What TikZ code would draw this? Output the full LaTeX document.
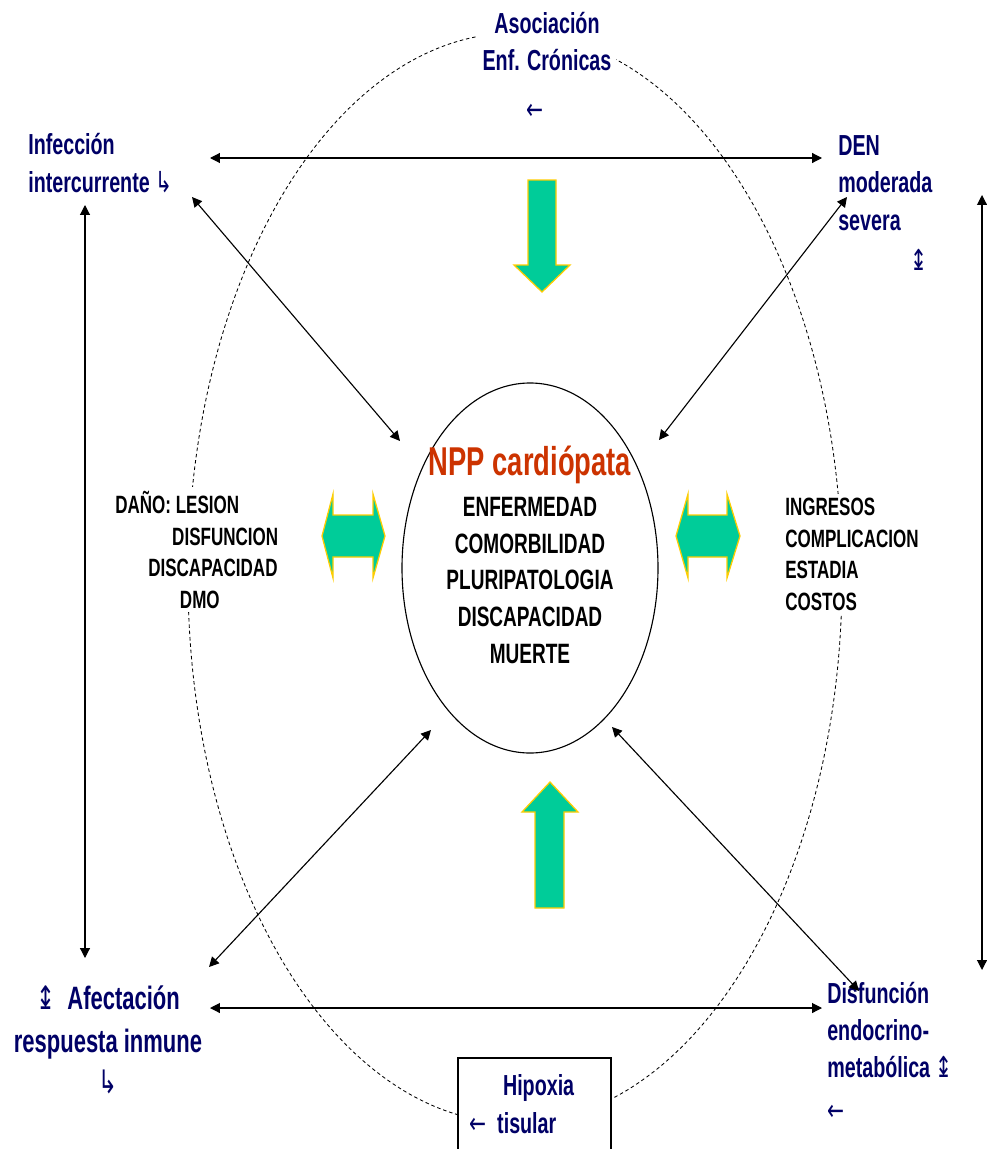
\documentclass[tikz,border=0pt]{standalone}
\usepackage{fontspec}
\setmainfont{Liberation Sans}[FakeStretch=0.68]
\newfontfamily\symfont{DejaVu Sans}[FakeStretch=0.7]
\usetikzlibrary{arrows.meta}

\definecolor{navy}{RGB}{0,0,102}
\definecolor{titlered}{RGB}{204,51,0}
\definecolor{arrowgreen}{RGB}{0,204,153}
\definecolor{arrowgold}{RGB}{255,204,0}
\newcommand{\arr}[1]{{\symfont\mdseries #1}}

\tikzset{
  navylbl/.style={text=navy, font=\bfseries\fontsize{20.6}{26.5}\selectfont, inner sep=0pt},
  listlbl/.style={font=\bfseries\fontsize{17.8}{22.3}\selectfont, fill=white, inner xsep=0pt, inner ysep=3pt, align=left},
  corelbl/.style={font=\bfseries\fontsize{19.9}{26}\selectfont, inner sep=0pt, align=center},
  link/.style={>={Triangle[length=7pt,width=7pt]}, <->, line width=0.8pt},
  bigarrow/.style={fill=arrowgreen, draw=arrowgold, line width=0.9pt},
}

\begin{document}
\begin{tikzpicture}[x=0.025cm, y=-0.025cm]
 \useasboundingbox (0,0) rectangle (986,1149);

 % Outer dashed oval and inner core
 \draw [dash pattern=on 2.5pt off 2pt, line width=0.6pt] (515,578) ellipse (327 and 545);
 \draw [line width=0.8pt] (530,568) ellipse (128 and 185);

 % Box at the bottom
 \draw [fill=white, line width=0.8pt] (458,1058) rectangle (611,1170);

 % Corner labels (anchored on their last line)
 \node [navylbl, fill=white, inner sep=3pt, align=center, anchor=base] (asoc) at (547,120) {Asociación\\Enf. Crónicas\\[8.5pt]\arr{←}\hspace*{17pt}};
 \node [navylbl, align=left, anchor=base west] (infec) at (28,192) {Infección\\intercurrente \arr{↳}};
 \node [navylbl, align=left, anchor=base west] (den) at (838,230) {DEN\\moderada\\severa};
 \node [navylbl] (denarr) at (919,260) {\arr{↨}};
 \node [navylbl, font=\bfseries\fontsize{23}{30.6}\selectfont, align=center, anchor=base] (afec) at (108,1093) {\arr{↨}\ \ Afectación\\respuesta inmune\\[-2pt]\arr{↳}};
 \node [navylbl, align=left, anchor=base west] (disf) at (827,1120) {Disfunción\\endocrino-\\metabólica \arr{↨}\\[3.5pt]\arr{←}};
 \node [navylbl, align=left, anchor=base west] (hipox) at (469,1133) {\hspace*{24pt}Hipoxia\\\arr{←}\ \ tisular};

 % Side lists
 \node [listlbl, anchor=base west] (dano) at (115,608) {DAÑO: LESION\\\hspace*{40.5pt}DISFUNCION\\\hspace*{23.5pt}DISCAPACIDAD\\\hspace*{46pt}DMO};
 \node [listlbl, anchor=base west] (ingr) at (785,610) {INGRESOS\\COMPLICACION\\ESTADIA\\COSTOS};

 % Core texts
 \node [text=titlered, font=\bfseries\fontsize{28.6}{30}\selectfont, inner sep=0pt, anchor=base] (npp) at (530,475) {NPP cardiópata};
 \node [corelbl, anchor=base] (core) at (530,663) {ENFERMEDAD\\COMORBILIDAD\\PLURIPATOLOGIA\\DISCAPACIDAD\\MUERTE};

 % Green block arrows
 \draw [bigarrow] (528,180) -- (556,180) -- (556,265) -- (570,265) -- (542,292) -- (514,265) -- (528,265) -- cycle;
 \draw [bigarrow] (550,782) -- (578,812) -- (564,812) -- (564,908) -- (535,908) -- (535,812) -- (522,812) -- cycle;
 \draw [bigarrow] (322,536) -- (333,494) -- (333,515) -- (373,515) -- (373,494) -- (385,536) -- (373,578) -- (373,557) -- (333,557) -- (333,578) -- cycle;
 \draw [bigarrow] (676,536) -- (688,494) -- (688,515) -- (727,515) -- (727,494) -- (740,536) -- (727,578) -- (727,557) -- (688,557) -- (688,578) -- cycle;

 % Ends of the thin links
 \coordinate (infE) at (210,158);
 \coordinate (denW) at (822,158);
 \coordinate (afeE) at (210,1008);
 \coordinate (disW) at (822,1008);
 \coordinate (leftT) at (85,205);
 \coordinate (leftB) at (85,958);
 \coordinate (rightT) at (982,195);
 \coordinate (rightB) at (982,970);
 \coordinate (coreNW) at (400,441);
 \coordinate (coreNE) at (659,440);
 \coordinate (coreSW) at (431,730);
 \coordinate (coreSE) at (612,727);
 \coordinate (infSE) at (192,197);
 \coordinate (denSW) at (847,197);
 \coordinate (afeNE) at (209,967);
 \coordinate (disNW) at (859,991);

 % Thin links
 \draw [link] (infE) -- (denW);
 \draw [link] (afeE) -- (disW);
 \draw [link] (leftT) -- (leftB);
 \draw [link] (rightT) -- (rightB);
 \draw [link] (infSE) -- (coreNW);
 \draw [link] (denSW) -- (coreNE);
 \draw [link] (afeNE) -- (coreSW);
 \draw [link] (disNW) -- (coreSE);

\end{tikzpicture}
\end{document}
